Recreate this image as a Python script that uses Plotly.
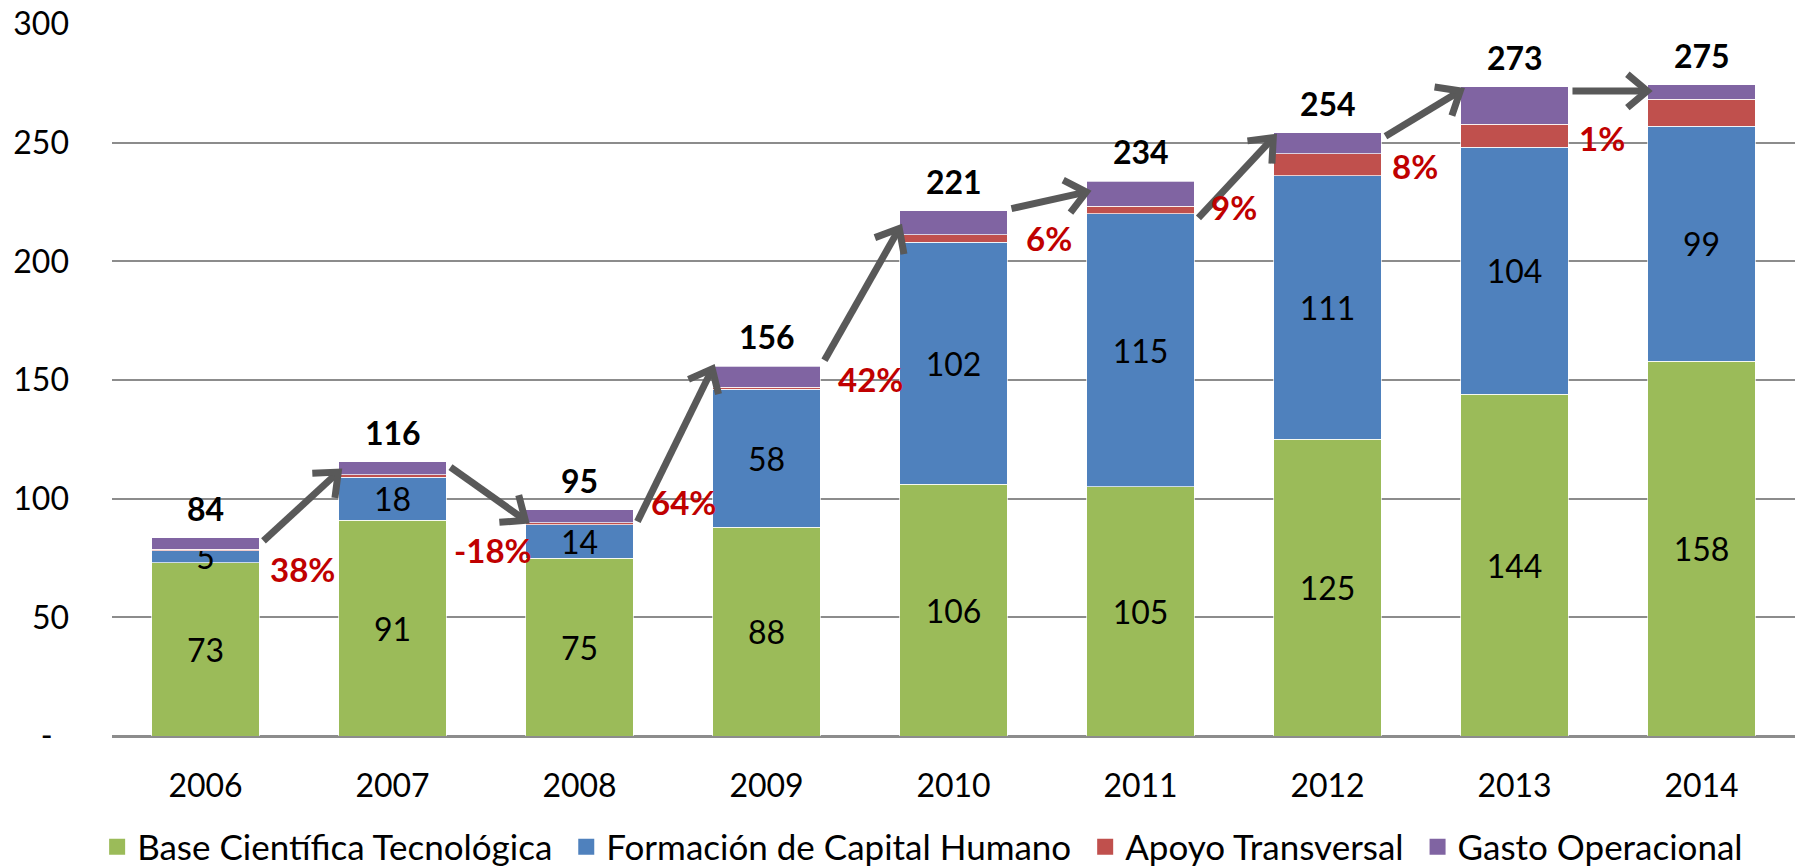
import math
import plotly.graph_objects as go

# ---------------- data ----------------
years = ["2006", "2007", "2008", "2009", "2010", "2011", "2012", "2013", "2014"]
base_cientifica = [73, 91, 75, 88, 106, 105, 125, 144, 158]
formacion_capital = [5, 18, 14, 58, 102, 115, 111, 104, 99]
apoyo_transversal = [0.6, 1.0, 0.9, 1.0, 3.1, 3.2, 9.3, 9.8, 11.2]
gasto_operacional = [5.0, 5.5, 5.5, 8.8, 10.3, 10.5, 8.9, 15.7, 6.3]
total_labels = [84, 116, 95, 156, 221, 234, 254, 273, 275]
growth_labels = ["38%", "-18%", "64%", "42%", "6%", "9%", "8%", "1%"]

y_ticks = [0, 50, 100, 150, 200, 250, 300]
y_ticktext = ["-\u00a0\u00a0", "50", "100", "150", "200", "250", "300"]

# ---------------- layout geometry / styles ----------------
W, H = 1795, 867
ML, MR, MT, MB = 112, 0, 24, 131
PW, PH = W - ML - MR, H - MT - MB
YMAX = 300
BAR_W = 0.575
FONT = "Lato"
FS = 32
FS_PCT = 33
FS_LEG = 35

colors = ["#9BBB59", "#4F81BD", "#C0504D", "#8064A2"]
names = ["Base Científica Tecnológica", "Formación de Capital Humano",
         "Apoyo Transversal", "Gasto Operacional"]
series = [base_cientifica, formacion_capital, apoyo_transversal, gasto_operacional]
LEG_PAD = "\u00a0"

xs = list(range(len(years)))
totals = [sum(v) for v in zip(*series)]

fig = go.Figure()
for k, (vals, name, col) in enumerate(zip(series, names, colors)):
    show_text = k < 2
    fig.add_trace(go.Bar(
        x=xs, y=vals, name=name, width=BAR_W, showlegend=False, legendgroup=name,
        marker=dict(color=col, line=dict(color="rgba(255,255,255,0.7)", width=1)),
        text=[str(v) for v in vals] if show_text else None,
        textposition="inside" if show_text else "none",
        insidetextanchor="middle",
        constraintext="none",
        textangle=0,
        textfont=dict(family=FONT, size=FS, color="black"),
        hoverinfo="x+y+name",
    ))

# legend entries with larger square swatches
for k, (name, col) in enumerate(zip(names, colors)):
    label = name + (LEG_PAD if k < len(names) - 1 else "")
    fig.add_trace(go.Scatter(
        x=[None], y=[None], mode="markers", name=label, legendgroup=name,
        marker=dict(symbol="square", size=20, color=col), hoverinfo="skip"))

annotations = []
for i, t in enumerate(total_labels):
    annotations.append(dict(
        x=xs[i], y=totals[i], xref="x", yref="y", text=f"<b>{t}</b>",
        showarrow=False, yanchor="bottom", yshift=8,
        font=dict(family=FONT, size=FS, color="black")))

pct_dx = [0.52, 0.54, 0.555, 0.556, 0.51, 0.50, 0.47, 0.47]
pct_y = [70.2, 78.5, 98.7, 150.3, 209.7, 222.8, 240, 252]
for i, g in enumerate(growth_labels):
    annotations.append(dict(
        x=xs[i] + pct_dx[i], y=pct_y[i], xref="x", yref="y",
        text=f"<b>{g}</b>", showarrow=False,
        font=dict(family=FONT, size=FS_PCT, color="#C00000")))

start_dy = [-1.4, -2.2, -5, 2.5, 0.8, -15.4, -1.5, -1.7]
end_dy = [-4.3, -4.5, -1.1, -7.6, -4.5, -2.1, -1.7, -2.7]
ARROW_COLOR = "#595959"
ARROW_W = 7
HEAD_LEN = 26
HEAD_ANG = math.radians(40)


def to_px(u, v):
    return ML + (u + 0.5) * PW / len(years), MT + (YMAX - v) / YMAX * PH


def to_data(px, py):
    return (px - ML) * len(years) / PW - 0.5, YMAX - (py - MT) / PH * YMAX


shapes = []
for i in range(len(years) - 1):
    sx, sy = xs[i] + 0.31, totals[i] + start_dy[i]
    ex, ey = xs[i + 1] - 0.29, totals[i + 1] + end_dy[i]
    Sx, Sy = to_px(sx, sy)
    Ex, Ey = to_px(ex, ey)
    dx, dy = Ex - Sx, Ey - Sy
    n = math.hypot(dx, dy)
    dx, dy = dx / n, dy / n
    bx, by = to_data(Ex - dx * 4, Ey - dy * 4)
    shapes.append(dict(type="line", xref="x", yref="y", x0=sx, y0=sy, x1=bx, y1=by,
                       line=dict(color=ARROW_COLOR, width=ARROW_W)))
    wings = []
    for s in (1, -1):
        c, sn = math.cos(s * HEAD_ANG), math.sin(s * HEAD_ANG)
        rx, ry = dx * c - dy * sn, dx * sn + dy * c
        wings.append(to_data(Ex - rx * HEAD_LEN, Ey - ry * HEAD_LEN))
    tx, ty = to_data(Ex, Ey)
    path = f"M {wings[0][0]},{wings[0][1]} L {tx},{ty} L {wings[1][0]},{wings[1][1]}"
    shapes.append(dict(type="path", xref="x", yref="y", path=path,
                       line=dict(color=ARROW_COLOR, width=ARROW_W)))

fig.update_layout(
    width=W, height=H,
    margin=dict(l=ML, r=MR, t=MT, b=MB, pad=0),
    barmode="stack",
    plot_bgcolor="white", paper_bgcolor="white",
    font=dict(family=FONT, size=FS, color="black"),
    showlegend=True,
    legend=dict(orientation="h", xref="container", yref="container",
                x=0.514, y=0.023, xanchor="center", yanchor="middle",
                font=dict(family=FONT, size=FS_LEG, color="black"),
                itemwidth=30, itemsizing="trace", traceorder="normal"),
    annotations=annotations,
    shapes=shapes,
    xaxis=dict(range=[-0.5, len(years) - 0.5], tickvals=xs, ticktext=years,
               showgrid=False, zeroline=False, showline=False, ticks="",
               ticklabelstandoff=28, tickfont=dict(family=FONT, size=FS)),
    yaxis=dict(range=[0, YMAX], tickvals=y_ticks, ticktext=y_ticktext,
               showgrid=True, gridcolor="#8C8C8C", gridwidth=2,
               zeroline=True, zerolinecolor="#8C8C8C", zerolinewidth=3,
               showline=False, ticks="", ticklabelstandoff=42,
               tickfont=dict(family=FONT, size=FS)),
)

fig.write_html("out.html")
